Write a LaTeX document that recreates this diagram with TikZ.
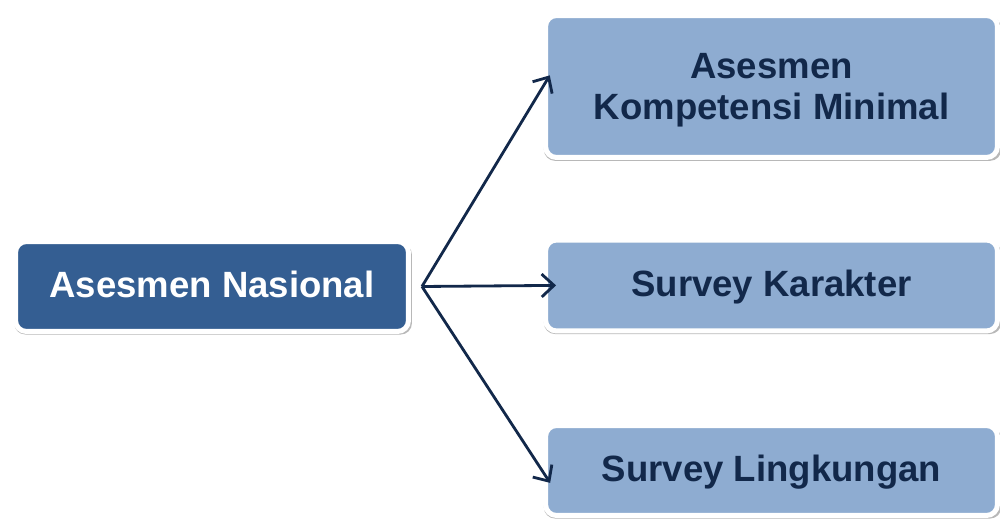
\documentclass[tikz,border=0pt]{standalone}
\usepackage{fontspec}
\setmainfont{Liberation Sans}
\usepackage{tikz}
\usetikzlibrary{arrows.meta, shadows}
\definecolor{darkblue}{HTML}{345E92}
\definecolor{lightblue}{HTML}{8EACD1}
\definecolor{navy}{HTML}{12284A}
\tikzstyle{halo} = [general shadow={shadow scale=1.012, shadow xshift=0.6pt, shadow yshift=-1.4pt, fill=black, opacity=0.28}]
\tikzstyle{mainbox} = [rectangle, rounded corners=0.22cm, minimum width=7.86cm, minimum height=1.8cm, text centered, draw=white, line width=0.1cm, fill=darkblue, text=white, font=\fontsize{20.8}{23}\selectfont\bfseries, text depth=0.2em, halo]
\tikzstyle{partbox} = [rectangle, rounded corners=0.22cm, minimum width=9.04cm, text centered, align=center, draw=white, line width=0.1cm, fill=lightblue, text=navy, font=\fontsize{20.8}{23}\selectfont\bfseries, text depth=0.2em, halo]
\tikzstyle{arrow} = [line width=1.6pt, draw=navy, shorten >=-0.26cm, -{Straight Barb[length=7pt, width=13pt, line width=1.6pt]}]

\begin{document}
\begin{tikzpicture}[x=0.02cm, y=-0.02cm]
    \useasboundingbox (0,0) rectangle (1000,520);
    \node (an) [mainbox] at (212,286.5) {Asesmen Nasional};
    \node (akm) [partbox, minimum height=2.84cm, text depth=0.02em] at (771.5,86.5) {Asesmen\\Kompetensi Minimal};
    \node (sk) [partbox, minimum height=1.82cm] at (771.5,285.5) {Survey Karakter};
    \node (sl) [partbox, minimum height=1.8cm] at (771.5,470.5) {Survey Lingkungan};
    \coordinate (fork) at ([xshift=0.22cm]an.east);

    \draw [arrow] (fork) -- (akm.west);
    \draw [arrow] (fork) -- (sk.west);
    \draw [arrow] (fork) -- ([yshift=-0.03cm]sl.west);
\end{tikzpicture}
\end{document}
